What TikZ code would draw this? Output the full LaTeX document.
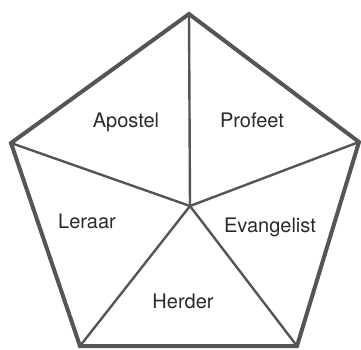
\documentclass[tikz,border=0pt]{standalone}
\usepackage{fontspec}
\setmainfont{TeX Gyre Heros}
\definecolor{edge}{HTML}{555555}
\definecolor{txt}{HTML}{2A2A2A}
\begin{document}
\begin{tikzpicture}[x=1pt,y=-1pt,
  outer/.style={draw=edge,line width=4pt,line join=miter},
  spoke/.style={draw=edge,line width=2.4pt},
  lbl/.style={anchor=base,inner sep=0pt,text=txt,font=\fontsize{20}{24}\selectfont}]
\useasboundingbox (0,0) rectangle (361,349);
\coordinate (T) at (189,14);
\coordinate (R) at (359,142);
\coordinate (BR) at (297,346);
\coordinate (BL) at (80,346);
\coordinate (L) at (11,143);
\coordinate (C) at (190,206);
\draw[spoke] (C) -- (T);
\draw[spoke] (C) -- (R);
\draw[spoke] (C) -- (BR);
\draw[spoke] (C) -- (BL);
\draw[spoke] (C) -- (L);
\draw[outer] (T) -- (R) -- (BR) -- (BL) -- (L) -- cycle;
\node[lbl] (apostel) at (126,127) {Apostel};
\node[lbl] (profeet) at (252,127) {Profeet};
\node[lbl] (leraar) at (87,228) {Leraar};
\node[lbl] (evangelist) at (270,232) {Evangelist};
\node[lbl] (herder) at (183,308) {Herder};
\end{tikzpicture}
\end{document}
